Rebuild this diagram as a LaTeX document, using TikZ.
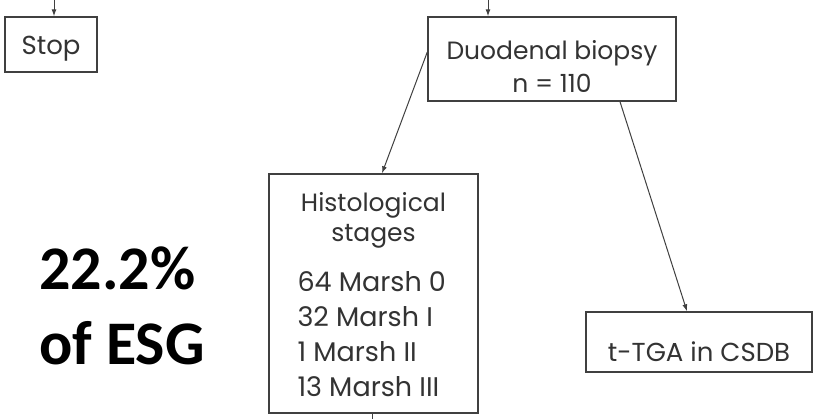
\documentclass[tikz,border=0pt]{standalone}
\usepackage{fontspec}
\setmainfont{Poppins}
\newfontfamily\calib{Carlito}
\usetikzlibrary{arrows.meta}
\begin{document}
\begin{tikzpicture}[x=1pt,y=-1pt,
  box/.style={draw=black!75, line width=1.4pt, inner sep=0pt, text=black!80},
  conn/.style={draw=black!75, line width=1pt, -{Latex[length=7pt,width=5pt]}},
  plain/.style={draw=black!75, line width=1pt}]
\useasboundingbox (0,0) rectangle (817,419);
\fill[white] (0,0) rectangle (817,419);
% boxes
\node[box, font=\fontsize{26}{30}\selectfont, minimum width=92pt, minimum height=55pt, text height=38pt, text depth=17pt] (stop) at (51,44.5) {Stop};
\node[box, font=\fontsize{25}{33}\selectfont, minimum width=248pt, minimum height=84pt, align=center, text height=76pt, text depth=8pt] (duo) at (552,59) {Duodenal biopsy\\n = 110};
\node[box, font=\fontsize{25}{30}\selectfont, minimum width=209pt, minimum height=239pt, align=center, text height=223pt, text depth=16pt] (hist) at (373.5,293.5)
  {Histological\\stages\\[20pt]%
   \makebox[152pt][l]{\fontsize{27}{30}\selectfont 64 Marsh 0}\\[5pt]%
   \makebox[152pt][l]{\fontsize{27}{30}\selectfont 32 Marsh I}\\[5pt]%
   \makebox[152pt][l]{\fontsize{27}{30}\selectfont 1 Marsh II}\\[5pt]%
   \makebox[152pt][l]{\fontsize{27}{30}\selectfont 13 Marsh III}};
\node[box, font=\fontsize{26}{30}\selectfont, minimum width=226pt, minimum height=60pt, text height=50pt, text depth=10pt] (ttga) at (699,342) {t-TGA in CSDB};
% big label
\node[anchor=base west, inner sep=0pt, align=left, font=\calib\bfseries\fontsize{62}{75}\selectfont] (esg) at (39,365) {22.2\%\\of ESG};
% free ends
\coordinate (stopin) at (54,-3);
\coordinate (duoin) at (488,-3);
\coordinate (histout) at (372,422);
% connectors
\draw[conn] (stopin) -- (stopin |- stop.north);
\draw[conn] (duoin) -- (duoin |- duo.north);
\draw[plain] (histout |- hist.south) -- (histout);
\draw[conn] ([yshift=7pt]duo.west) -- ([xshift=8.5pt]hist.north);
\draw[conn] ([xshift=68pt]duo.south) -- ([xshift=-12pt]ttga.north);
\end{tikzpicture}
\end{document}
